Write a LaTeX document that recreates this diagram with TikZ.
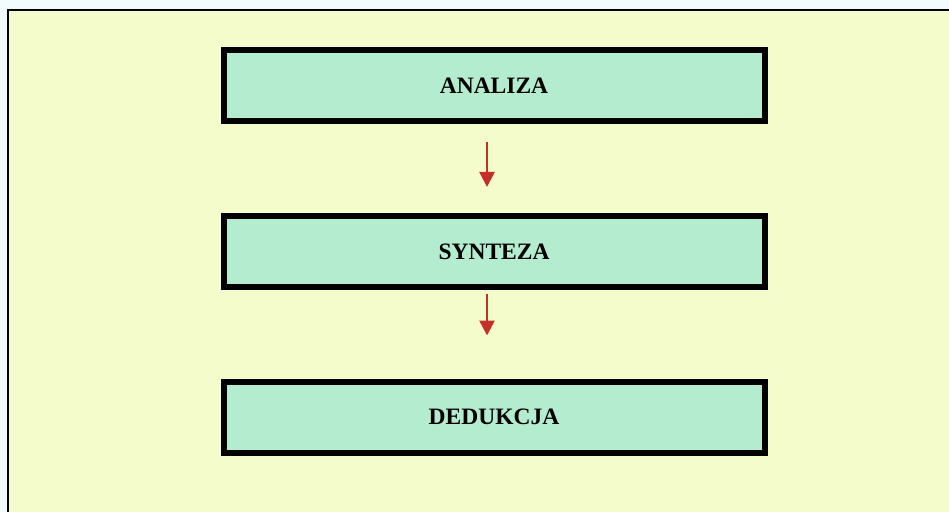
\documentclass[tikz,border=0pt]{standalone}
\usepackage{fontspec}
\setmainfont{Liberation Serif}
\usepackage{xcolor}
\usetikzlibrary{positioning,arrows.meta}
\definecolor{tlo}{RGB}{243,252,202}
\definecolor{ramka}{RGB}{180,236,208}
\definecolor{strzalka}{RGB}{196,48,40}

\begin{document}
\begin{tikzpicture}[x=1pt,y=1pt,node distance=165.5pt,on grid,
    etap/.style={draw,fill=ramka,line width=6pt,minimum width=541pt,
      minimum height=71pt,font=\fontsize{23.5}{27}\selectfont\bfseries},
    krok/.style={-{Triangle[width=15pt,length=15pt]},draw=strzalka,
      fill=strzalka,line width=2.5pt}]
   \useasboundingbox (0,0) rectangle (949,512);
   % tlo i ramka strony
   \fill[white!95!cyan] (0,0) rectangle (949,512);
   \fill[tlo] (8,0) rectangle (949,502);
   \draw[line width=1.5pt] (8,0) -- (8,502) -- (949,502);
   % etapy
   \node[etap] (analiza) at (494,426) {ANALIZA};
   \node[etap] (synteza) [below=of analiza] {SYNTEZA};
   \node[etap] (dedukcja) [below=of synteza] {DEDUKCJA};
    \path
    ([xshift=-7pt]analiza.south) edge [krok, shorten <=18pt, shorten >=26pt] ([xshift=-7pt]synteza.north)
    ([xshift=-7pt]synteza.south) edge [krok, shorten <=4pt, shorten >=43pt] ([xshift=-7pt]dedukcja.north);
\end{tikzpicture}
\end{document}
